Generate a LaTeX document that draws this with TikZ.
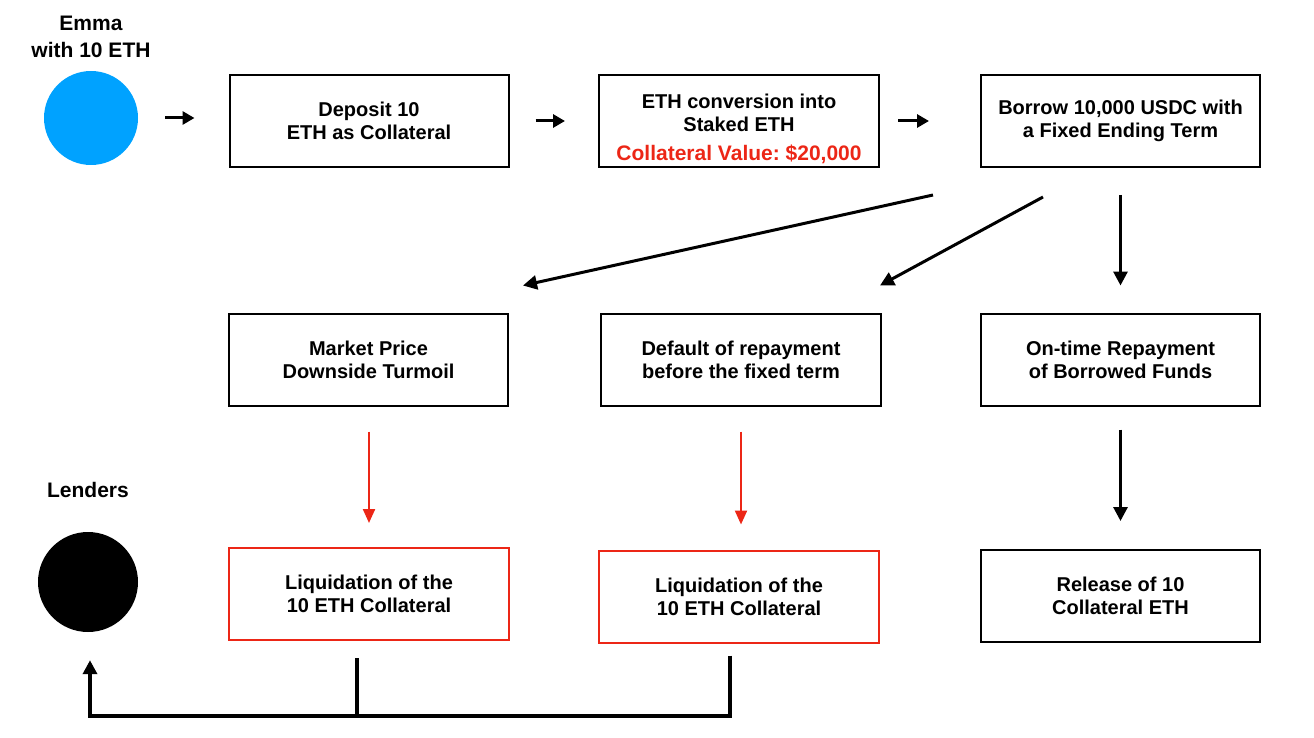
\documentclass[tikz,border=0pt]{standalone}
\usepackage{fontspec}
\setmainfont{Liberation Sans}
\usetikzlibrary{arrows.meta,positioning}
\usepackage{xcolor}
\definecolor{emmablue}{RGB}{0,162,255}
\definecolor{alertred}{RGB}{236,38,22}
\definecolor{lineblack}{RGB}{0,0,0}
\frenchspacing

\begin{document}
\begin{tikzpicture}[
  x=1pt, y=-1pt,
  box/.style={rectangle, draw=lineblack, minimum width=279pt, minimum height=92pt, align=center, font=\fontsize{20}{23}\selectfont\bfseries, line width=2pt, inner sep=0pt},
  redbox/.style={box, draw=alertred},
  who/.style={align=center, font=\fontsize{21}{27}\selectfont\bfseries},
  dot/.style={circle, inner sep=0pt},
  arr/.style={-{Triangle[length=12pt,width=13pt]}, line width=3pt},
  bigarr/.style={-{Triangle[length=14pt,width=14pt]}, line width=3pt},
  redarr/.style={-{Triangle[length=14pt,width=12pt]}, line width=2.2pt, draw=alertred}
]
\useasboundingbox (0,0) rectangle (1314,738);

\node[dot, fill=emmablue, minimum size=94pt] (emma) at (91,118) {};
\node[who] (emmalbl) at (91,37) {Emma\\with 10 ETH};
\node[dot, fill=lineblack, minimum size=100pt] (lenders) at (88,582) {};
\node[who] (lenderslbl) at (88,490) {Lenders};

\node[box] (v1) at (369,121) {Deposit 10\\ETH as Collateral};
\node[box, minimum width=280pt] (v2) at (739,121) {\rule{0pt}{30pt}ETH conversion into\\Staked ETH\\[6pt]{\fontsize{21}{23}\selectfont\color{alertred}Collateral Value: \$20,000}};
\node[box] (v3) at (1120.5,121) {Borrow 10,000 USDC with\\a Fixed Ending Term};

\node[box] (v4) at (368.5,359.5) {Market Price\\Downside Turmoil};
\node[box, minimum width=280pt] (v5) at (741,359.5) {Default of repayment\\before the fixed term};
\node[box] (v6) at (1120.5,359.5) {On-time Repayment\\of Borrowed Funds};

\node[redbox, minimum width=280pt] (v7) at (369,594) {Liquidation of the\\10 ETH Collateral};
\node[redbox, minimum width=280pt] (v8) at (739,596.5) {Liquidation of the\\10 ETH Collateral};
\node[box] (v9) at (1120.5,596) {Release of 10\\Collateral ETH};

\draw[arr, shorten <=27pt, shorten >=34pt] (emma.east) -- (emma.east -| v1.west);
\draw[arr, shorten <=26pt, shorten >=33pt] (v1) -- (v2);
\draw[arr, shorten <=18pt, shorten >=51pt] (v2) -- (v3);

\draw[bigarr] ([xshift=-187.5pt,yshift=-27pt]v3.south) -- ([xshift=154.5pt,yshift=27pt]v4.north);
\draw[bigarr] ([xshift=-77.5pt,yshift=-29pt]v3.south) -- ([xshift=139pt,yshift=27pt]v5.north);
\draw[bigarr, shorten <=27pt, shorten >=27pt] (v3) -- (v6);

\draw[redarr, shorten <=25pt, shorten >=24pt] (v7.north |- v4.south) -- (v7.north);
\draw[redarr, shorten <=25pt, shorten >=25pt] (v5.south) -- (v5.south |- v8.north);
\draw[bigarr, shorten <=23pt, shorten >=28pt] (v6) -- (v9);

% collateral goes back to the lenders
\coordinate (j1) at (730,716);
\coordinate (j2) at (90,716);
\draw[line width=3.5pt] ([xshift=-12pt,yshift=-17pt]v7.south) -- ([xshift=-12pt]v7.south |- j1);
\draw[bigarr, line width=3.5pt] ([xshift=-9pt,yshift=-12pt]v8.south) -- (j1) -- (j2) -- ([xshift=2pt,yshift=-28pt]lenders.south);
\end{tikzpicture}
\end{document}
